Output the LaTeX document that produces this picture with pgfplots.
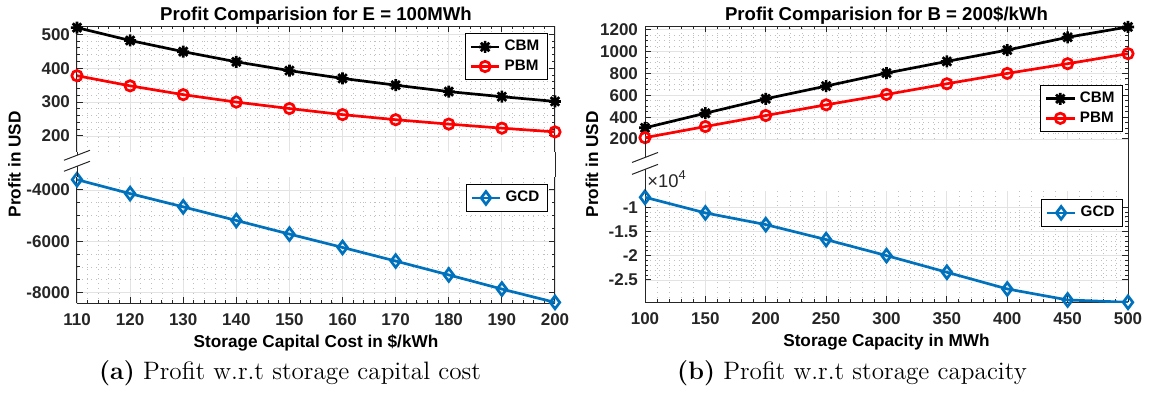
\documentclass[border=0pt]{standalone}
\usepackage{fontspec}
\usepackage{pgfplots}
\pgfplotsset{compat=1.18}
\newfontfamily\arial{Liberation Sans}
\definecolor{mblue}{RGB}{0,114,189}
\definecolor{mgray}{RGB}{38,38,38}
\pgfdeclareplotmark{mstar}{%
  \pgfpathmoveto{\pgfqpoint{-\pgfplotmarksize}{0pt}}\pgfpathlineto{\pgfqpoint{\pgfplotmarksize}{0pt}}%
  \pgfpathmoveto{\pgfqpoint{0pt}{-\pgfplotmarksize}}\pgfpathlineto{\pgfqpoint{0pt}{\pgfplotmarksize}}%
  \pgfpathmoveto{\pgfqpoint{-.707\pgfplotmarksize}{-.707\pgfplotmarksize}}\pgfpathlineto{\pgfqpoint{.707\pgfplotmarksize}{.707\pgfplotmarksize}}%
  \pgfpathmoveto{\pgfqpoint{-.707\pgfplotmarksize}{.707\pgfplotmarksize}}\pgfpathlineto{\pgfqpoint{.707\pgfplotmarksize}{-.707\pgfplotmarksize}}%
  \pgfusepathqstroke}

\pgfplotstableread{
x    cbm  pbm  gcd
110  520  378  -3600
120  482  348  -4144
130  449  322  -4660
140  419  300  -5190
150  393  281  -5720
160  370  263  -6240
170  350  248  -6770
180  331  235  -7310
190  316  223  -7860
200  302  212  -8380
}\costdata

\pgfplotstableread{
x    cbm   pbm  gcd
100  302   212  -7940
150  436   314  -11170
200  568   415  -13580
250  685   513  -16670
300  804   608  -19970
350  911   706  -23410
400  1015  801  -26850
450  1132  890  -29120
500  1227  982  -29600
}\capdata

\pgfplotsset{
  mstyle/.style={
    scale only axis,
    anchor=north west,
    font=\arial\bfseries\fontsize{8.5}{10}\selectfont,
    /pgf/number format/assume math mode=true,
    /pgf/number format/1000 sep={},
    tick label style={font=\arial\bfseries\fontsize{8.5}{10}\selectfont, text=mgray},
    axis line style={mgray, line width=0.5pt, -},
    tick style={mgray, line width=0.5pt},
    tick align=inside,
    major tick length=3pt, minor tick length=1.5pt,
    grid=both,
    major grid style={gray!22, line width=0.4pt},
    minor grid style={gray!50, dotted, line width=0.4pt},
    legend style={draw=black, line width=0.5pt, fill=white,
      font=\arial\bfseries\fontsize{7.6}{9}\selectfont,
      inner xsep=2pt, inner ysep=1.3pt, row sep=-1pt},
    legend cell align=left,
    legend image code/.code={\draw[mark repeat=2,mark phase=2] plot coordinates {(0cm,0cm)(0.25cm,0cm)(0.5cm,0cm)};},
    every axis title/.style={font=\arial\bfseries\fontsize{9.3}{11}\selectfont, at={(0.5,1)}, anchor=base, yshift=2.9pt},
    xticklabel style={anchor=base, yshift=-11pt},
    xlabel style={font=\arial\bfseries\fontsize{8.6}{10}\selectfont, at={(0.5,0)}, anchor=base, yshift=-22pt},
    scaled ticks=false,
  },
  topax/.style={mstyle, axis x line*=top, xtick pos=right, xticklabels={}},
  botax/.style={mstyle, axis x line*=bottom, xtick pos=left},
  cbmplot/.style={black, line width=1.35pt, mark=mstar, mark size=3pt, mark options={solid}},
  pbmplot/.style={red, line width=1.35pt, mark=o, mark size=2.6pt, mark options={solid}},
  gcdplot/.style={mblue, line width=1.35pt, mark=diamond, mark size=3.2pt, mark options={solid}},
}

\begin{document}
\begin{tikzpicture}
\path (0pt,0pt) rectangle (576pt,-195.5pt);

% ---------- (a) left, top ----------
\begin{axis}[topax, at={(38.5pt,-12pt)}, width=239pt, height=62.8pt,
  xmin=110, xmax=200, ymin=153, ymax=524,
  xtick={110,120,...,200}, minor x tick num=4,
  ytick={200,300,400,500}, minor y tick num=4,
  title={Profit Comparision for E = 100MWh},
  legend style={at={(1,1)}, anchor=north east, xshift=-3.6pt, yshift=-3.4pt}]
\addplot[cbmplot] table[x=x,y=cbm]{\costdata};
\addlegendentry{CBM}
\addplot[pbmplot] table[x=x,y=pbm]{\costdata};
\addlegendentry{PBM}
\end{axis}

% ---------- (a) left, bottom ----------
\begin{axis}[botax, at={(38.5pt,-87.5pt)}, width=239pt, height=63pt,
  xmin=110, xmax=200, ymin=-8414, ymax=-3508,
  xtick={110,120,...,200}, minor x tick num=4,
  ytick={-8000,-6000,-4000}, minor y tick num=3,
  xlabel={Storage Capital Cost in \$/kWh},
  legend style={at={(1,1)}, anchor=north east, xshift=-3.6pt, yshift=-3.4pt}]
\addplot[gcdplot] table[x=x,y=gcd]{\costdata};
\addlegendentry{GCD}
\end{axis}

% ---------- (b) right, top ----------
\begin{axis}[topax, at={(322.5pt,-12pt)}, width=241.5pt, height=56.35pt,
  xmin=100, xmax=500, ymin=200, ymax=1233,
  xtick={100,150,...,500}, minor x tick num=4,
  ytick={200,400,...,1200}, minor y tick num=3,
  title={Profit Comparision for B = 200\$/kWh},
  legend style={at={(1,0)}, anchor=south east, xshift=-2.5pt, yshift=3.4pt}]
\addplot[cbmplot] table[x=x,y=cbm]{\capdata};
\addlegendentry{CBM}
\addplot[pbmplot] table[x=x,y=pbm]{\capdata};
\addlegendentry{PBM}
\end{axis}

% ---------- (b) right, bottom ----------
\begin{axis}[botax, at={(322.5pt,-94.15pt)}, width=241.5pt, height=55.85pt,
  xmin=100, xmax=500, ymin=-29600, ymax=-6560,
  xtick={100,150,...,500}, minor x tick num=4,
  ytick={-25000,-20000,-15000,-10000}, yticklabels={-2.5,-2,-1.5,-1},
  minor y tick num=4,
  xlabel={Storage Capacity in MWh},
  legend style={at={(1,1)}, anchor=north east, xshift=-2.5pt, yshift=-4.2pt}]
\addplot[gcdplot] table[x=x,y=gcd]{\capdata};
\addlegendentry{GCD}
\end{axis}

% ---------- x10^4 ----------
\node[anchor=base west, inner sep=0pt, font=\arial\fontsize{9.2}{10}\selectfont, text=mgray]
  at (323.5pt,-92.4pt) {×10\textsuperscript{4}};

% ---------- axis breaks ----------
\begin{scope}[mgray, line width=0.5pt]
\draw (277.5pt,-74.8pt) -- (277.5pt,-87.5pt);
\draw (564pt,-68.35pt) -- (564pt,-94.15pt);
\draw (38.5pt,-74.8pt) -- (38.5pt,-76.5pt);
\draw (38.5pt,-82pt) -- (38.5pt,-87.5pt);
\draw (32pt,-79pt) -- (45pt,-74pt);
\draw (32pt,-84.5pt) -- (45pt,-79.5pt);
\draw (322.5pt,-68.35pt) -- (322.5pt,-77.6pt);
\draw (322.5pt,-83.55pt) -- (322.5pt,-94.15pt);
\draw (316pt,-80.1pt) -- (329pt,-75.1pt);
\draw (316pt,-86.05pt) -- (329pt,-81.05pt);
\end{scope}

% ---------- y labels ----------
\node[rotate=90, anchor=base, inner sep=0pt, font=\arial\bfseries\fontsize{8.6}{10}\selectfont] at (10.3pt,-81pt) {Profit in USD};
\node[rotate=90, anchor=base, inner sep=0pt, font=\arial\bfseries\fontsize{8.6}{10}\selectfont] at (299pt,-81pt) {Profit in USD};

% ---------- captions ----------
\node[anchor=base, inner sep=0pt, font=\fontsize{12.6}{14}\selectfont] at (145pt,-188.5pt) {\textbf{(a)} Profit w.r.t storage capital cost};
\node[anchor=base, inner sep=0pt, font=\fontsize{12.6}{14}\selectfont] at (426pt,-188.5pt) {\textbf{(b)} Profit w.r.t storage capacity};
\end{tikzpicture}
\end{document}
